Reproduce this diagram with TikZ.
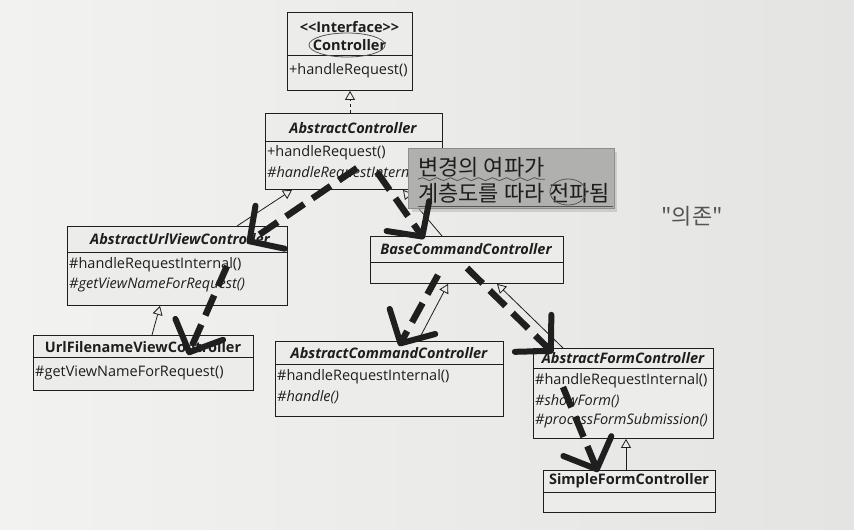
\documentclass[tikz,border=0pt]{standalone}
\usepackage{fontspec}
\setmainfont{Open Sans}
\newfontfamily\cjk{Noto Sans CJK KR}
\usetikzlibrary{arrows.meta,decorations.pathmorphing}
\definecolor{paperL}{RGB}{242,242,240}
\definecolor{paperR}{RGB}{228,228,226}
\definecolor{paper}{RGB}{236,236,234}
\definecolor{ink}{RGB}{30,30,30}
\definecolor{notefill}{RGB}{176,176,174}
\definecolor{pencil}{RGB}{85,85,85}
\begin{document}
\begin{tikzpicture}[x=1pt,y=-1pt,
  cls/.style={draw=ink,line width=0.9pt,fill=paper,anchor=north west,inner sep=0pt},
  ttl/.style={font=\fontsize{14.5}{16}\selectfont\bfseries\itshape,text=ink,inner sep=0pt},
  ttlu/.style={font=\fontsize{14.5}{16}\selectfont\bfseries,text=ink,inner sep=0pt},
  mem/.style={font=\fontsize{14.5}{16}\selectfont,text=ink,anchor=west,inner sep=0pt},
  memi/.style={mem,font=\fontsize{14.5}{16}\selectfont\itshape},
  inh/.style={draw=ink,line width=0.8pt,-{Triangle[length=9pt,width=10pt,open,fill=paper]}},
  real/.style={inh,dash pattern=on 3pt off 3pt},
  hand/.style={draw=black!88,line width=6.5pt,dash pattern=on 22pt off 10pt,
    -{Straight Barb[length=25pt,width=52pt,line width=6pt,round]}},
  pen/.style={draw=pencil,line width=0.8pt}
]
\shade[left color=paperL,right color=paperR] (0,0) rectangle (854,530);
\useasboundingbox (0,0) rectangle (854,530);

% Controller
\node[cls,minimum width=125pt,minimum height=78pt] (ctrl) at (287,12) {};
\draw[ink,line width=0.9pt] (287,55) -- (412,55);
\node[ttlu] (ctrlS) at (349.5,27) {{<}{<}Interface{>}{>}};
\node[ttlu] (ctrlT) at (349.5,45) {Controller};
\node[mem] (ctrlM) at (289,71) {+handleRequest()};

% AbstractController
\node[cls,minimum width=177pt,minimum height=76pt] (ac) at (265,113) {};
\draw[ink,line width=0.9pt] (265,141) -- (442,141);
\node[ttl] (acT) at (353,128) {AbstractController};
\node[mem] (acM1) at (267,153) {+handleRequest()};
\node[memi] (acM2) at (267,174) {\#handleRequestInternal()};

% AbstractUrlViewController
\node[cls,minimum width=220pt,minimum height=79pt] (auv) at (67,226) {};
\draw[ink,line width=0.9pt] (67,252) -- (287,252);
\node[ttl] (auvT) at (180,239) {AbstractUrlViewController};
\node[mem] (auvM1) at (69,265) {\#handleRequestInternal()};
\node[memi] (auvM2) at (69,285) {\#getViewNameForRequest()};

% UrlFilenameViewController
\node[cls,minimum width=220pt,minimum height=55pt] (ufv) at (33,335) {};
\draw[ink,line width=0.9pt] (33,357) -- (253,357);
\node[ttlu] (ufvT) at (143,347) {UrlFilenameViewController};
\node[mem] (ufvM1) at (35,373) {\#getViewNameForRequest()};

% BaseCommandController
\node[cls,minimum width=193pt,minimum height=47pt] (bcc) at (370,236) {};
\draw[ink,line width=0.9pt] (370,262) -- (563,262);
\node[ttl] (bccT) at (466,249) {BaseCommandController};

% AbstractCommandController
\node[cls,minimum width=228pt,minimum height=75pt] (acc) at (275,341) {};
\draw[ink,line width=0.9pt] (275,364) -- (503,364);
\node[ttl] (accT) at (389,353) {AbstractCommandController};
\node[mem] (accM1) at (277,377) {\#handleRequestInternal()};
\node[memi] (accM2) at (277,397) {\#handle()};

% AbstractFormController
\node[cls,minimum width=180pt,minimum height=90pt] (afc) at (533,348) {};
\draw[ink,line width=0.9pt] (533,368) -- (713,368);
\node[ttl] (afcT) at (623,358) {AbstractFormController};
\node[mem] (afcM1) at (535,381) {\#handleRequestInternal()};
\node[memi] (afcM2) at (535,401) {\#showForm()};
\node[memi] (afcM3) at (535,421) {\#processFormSubmission()};

% SimpleFormController
\node[cls,minimum width=172pt,minimum height=42pt] (sfc) at (543,470) {};
\draw[ink,line width=0.9pt] (543,492) -- (715,492);
\node[ttlu] (sfcT) at (629,481) {SimpleFormController};

% inheritance connectors
\draw[real] ([xshift=85pt]ac.north west) -- ([xshift=63pt]ctrl.south west);
\draw[inh] ([xshift=170pt]auv.north west) -- ([xshift=27pt]ac.south west);
\draw[inh] ([xshift=72pt]bcc.north west) -- ([xshift=138pt]ac.south west);
\draw[inh] ([xshift=119pt]ufv.north west) -- ([xshift=93pt]auv.south west);
\draw[inh] ([xshift=143pt]acc.north west) -- ([xshift=78pt]bcc.south west);
\draw[inh] ([xshift=30pt]afc.north west) -- ([xshift=127pt]bcc.south west);
\draw[inh] ([xshift=83pt]sfc.north west) -- ([xshift=93pt]afc.south west);

% note
\fill[black!30,opacity=0.5] (412,152) rectangle (617,212);
\node[fill=notefill,draw=notefill!80!black,line width=0.5pt,anchor=north west,
  minimum width=206pt,minimum height=60pt,inner sep=0pt] (note) at (408,148) {};
\node[font=\cjk\fontsize{22}{24}\selectfont,text=ink,anchor=west,inner sep=0pt] (n1) at (418,167) {변경의 여파가};
\node[font=\cjk\fontsize{22}{24}\selectfont,text=ink,anchor=west,inner sep=0pt] (n2) at (418,193) {계층도를 따라 전파됨};
\draw[pen,decorate,decoration={snake,amplitude=1.5pt,segment length=14pt}] ([yshift=-2pt]n1.south west) -- ([yshift=-2pt]n1.south east);
\draw[pen] ([yshift=-3pt]n2.south west) -- ([yshift=-3pt,xshift=3pt]n2.south east);
\draw[pen] (568,192) ellipse (18pt and 13pt);
\draw[pen] (347,45) ellipse (38pt and 12pt);

% handwritten
\node[font=\cjk\fontsize{22}{24}\selectfont,text=pencil,inner sep=0pt] (dep) at (692,216) {"의존"};

% hand-drawn dashed arrows
\draw[hand] ([xshift=92pt,yshift=-55pt]ac.north west) -- ([xshift=180pt,yshift=-17pt]auv.north west);
\draw[hand] ([xshift=112pt,yshift=-59pt]ac.north west) -- ([xshift=54pt,yshift=-3pt]bcc.north west);
\draw[hand] ([xshift=160pt,yshift=-40pt]auv.north west) -- ([xshift=155pt,yshift=-20pt]ufv.north west);
\draw[hand] ([xshift=68pt,yshift=-39pt]bcc.north west) -- ([xshift=124pt,yshift=-5pt]acc.north west);
\draw[hand] ([xshift=97pt,yshift=-32pt]bcc.north west) -- ([xshift=20pt,yshift=-5pt]afc.north west);
\draw[hand] ([xshift=30pt,yshift=-39pt]afc.north west) -- ([xshift=55pt,yshift=-2pt]sfc.north west);
\end{tikzpicture}
\end{document}
